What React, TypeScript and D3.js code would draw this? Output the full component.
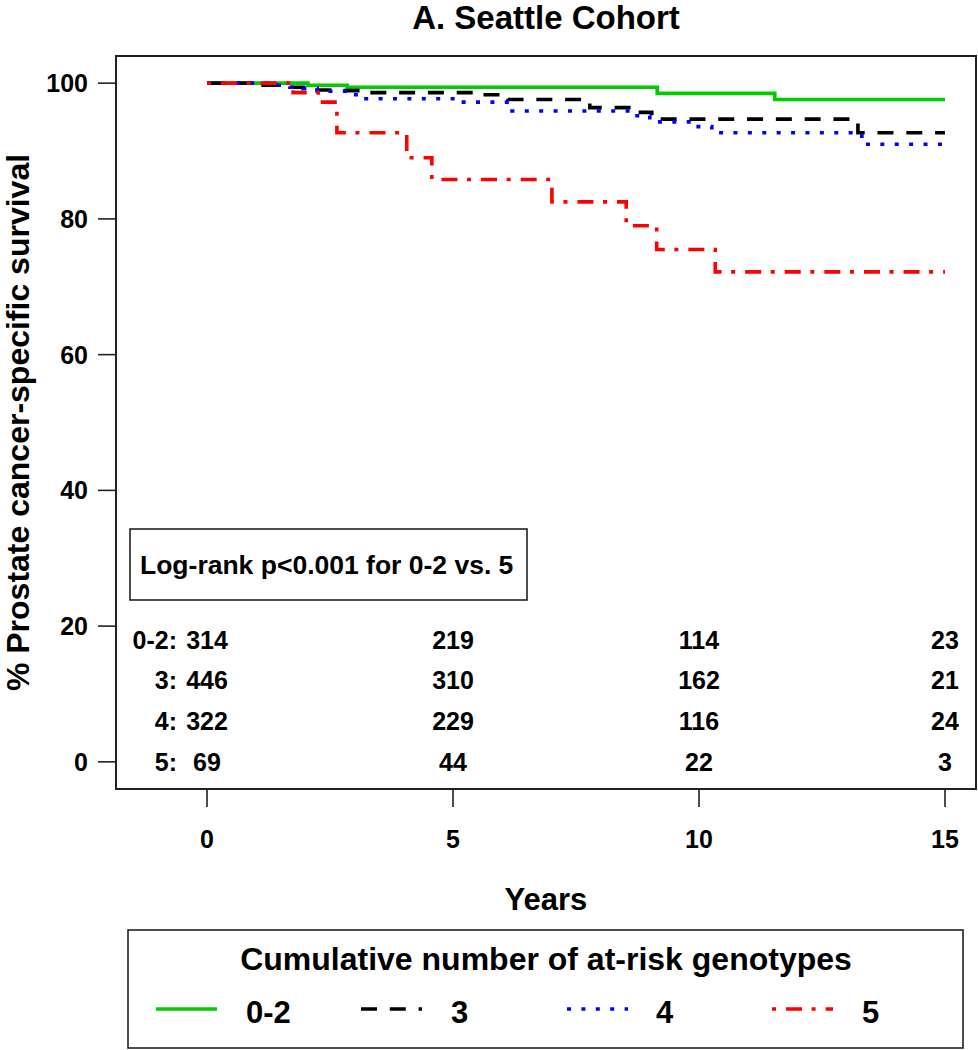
import React from "react";
import * as d3 from "d3";

// ---- data ----
const groups = ["0-2", "3", "4", "5"];
const colors = ["#00cc00", "#000000", "#0000ff", "#ff0000"];
const dashes = ["none", "16,12.8", "4,10.4", "4,10,16,9.6"];

const timesG = [0, 2.05, 2.85, 9.15, 11.54, 15];
const survG = [100, 99.7, 99.4, 98.5, 97.6, 97.6];

const timesB = [0, 1.14, 1.69, 2.24, 2.74, 3.31, 5.55, 6.12, 7.64, 7.78, 8.74, 9.04, 13.23, 15];
const survB = [100, 99.7, 99.4, 99.0, 98.9, 98.6, 98.3, 97.6, 97.2, 96.4, 95.7, 94.7, 92.7, 92.7];

const timesBl = [0, 1.34, 1.69, 1.95, 2.24, 2.97, 3.11, 5.14, 6.2, 8.74, 9.0, 9.86, 10.26, 13.31, 15];
const survBl = [100, 99.7, 99.4, 99.2, 98.8, 98.3, 97.7, 97.2, 95.9, 95.2, 94.3, 93.6, 92.7, 91.0, 91.0];

const timesR = [0, 1.75, 2.26, 2.64, 4.06, 4.57, 7.01, 8.52, 9.14, 10.33, 15];
const survR = [100, 98.6, 97.2, 92.7, 89.0, 85.8, 82.5, 79.0, 75.5, 72.2, 72.2];

const xTicks = [0, 5, 10, 15];
const yTicks = [0, 20, 40, 60, 80, 100];
const riskLabels = ["0-2:", "3:", "4:", "5:"];
const riskRowY = [18, 12, 6, 0];
const riskCounts = [
  [314, 219, 114, 23],
  [446, 310, 162, 21],
  [322, 229, 116, 24],
  [69, 44, 22, 3],
];

const titleText = "A. Seattle Cohort";
const xLabel = "Years";
const yLabel = "% Prostate cancer-specific survival";
const pText = "Log-rank p<0.001 for 0-2 vs. 5";
const legendTitle = "Cumulative number of at-risk genotypes";

const FONT = "'Liberation Sans', Arial, Helvetica, sans-serif";

export default function App() {
  const W = 978, H = 1050;
  const L = 116, R = 976, T = 56, B = 789;
  const x = d3.scaleLinear().domain([-1.85, 15.63]).range([L, R]);
  const y = d3.scaleLinear().domain([-4, 104]).range([B, T]);

  const series = [
    { t: timesG, s: survG },
    { t: timesB, s: survB },
    { t: timesBl, s: survBl },
    { t: timesR, s: survR },
  ];
  const line = d3
    .line<[number, number]>()
    .x((d) => x(d[0]))
    .y((d) => y(d[1]))
    .curve(d3.curveStepAfter);

  const legendXs = [156, 361, 567, 772];
  const legendTextXs = [246, 451, 656, 862];

  return (
    <div style={{ position: "absolute", left: 0, top: 0 }}>
      <svg width={W} height={H} style={{ display: "block" }} fontFamily={FONT} fontWeight="bold">
        <rect x={0} y={0} width={W} height={H} fill="#fff" />
        {/* title */}
        <text x={(L + R) / 2} y={29} textAnchor="middle" fontSize={33}>
          {titleText}
        </text>
        {/* plot box */}
        <rect x={L} y={T} width={R - L} height={B - T} fill="none" stroke="#222" strokeWidth={2} />
        {/* y axis */}
        {yTicks.map((v) => (
          <g key={"y" + v}>
            <line x1={L - 18} x2={L} y1={y(v)} y2={y(v)} stroke="#222" strokeWidth={1.6} />
            <text x={88} y={y(v) + 9} textAnchor="end" fontSize={25}>
              {v}
            </text>
          </g>
        ))}
        {/* x axis */}
        {xTicks.map((v) => (
          <g key={"x" + v}>
            <line x1={x(v)} x2={x(v)} y1={B} y2={B + 18} stroke="#222" strokeWidth={1.6} />
            <text x={x(v)} y={848} textAnchor="middle" fontSize={25}>
              {v}
            </text>
          </g>
        ))}
        <text x={(L + R) / 2} y={910} textAnchor="middle" fontSize={31}>
          {xLabel}
        </text>
        <text
          transform={`translate(29, ${(T + B) / 2}) rotate(-90)`}
          textAnchor="middle"
          fontSize={32}
        >
          {yLabel}
        </text>
        {/* curves */}
        {series.map((sr, i) => (
          <path
            key={"c" + i}
            d={line(sr.t.map((t, j) => [t, sr.s[j]] as [number, number])) || ""}
            fill="none"
            stroke={colors[i]}
            strokeWidth={3.6}
            strokeDasharray={dashes[i]}
          />
        ))}
        {/* log-rank box */}
        <rect x={130} y={529} width={397} height={71} fill="#fff" stroke="#222" strokeWidth={1.6} />
        <text x={140} y={574} fontSize={26.5}>
          {pText}
        </text>
        {/* risk table */}
        {riskCounts.map((row, i) => (
          <g key={"r" + i}>
            <text x={177} y={y(riskRowY[i]) + 9} textAnchor="end" fontSize={25}>
              {riskLabels[i]}
            </text>
            {row.map((n, j) => (
              <text key={j} x={x(xTicks[j])} y={y(riskRowY[i]) + 9} textAnchor="middle" fontSize={25}>
                {n}
              </text>
            ))}
          </g>
        ))}
        {/* legend */}
        <rect x={128} y={930} width={835} height={118} fill="#fff" stroke="#222" strokeWidth={1.6} />
        <text x={(L + R) / 2} y={970} textAnchor="middle" fontSize={32}>
          {legendTitle}
        </text>
        {groups.map((g, i) => (
          <g key={"l" + i}>
            <line
              x1={legendXs[i]}
              x2={legendXs[i] + 61}
              y1={1009}
              y2={1009}
              stroke={colors[i]}
              strokeWidth={3.6}
              strokeDasharray={dashes[i]}
            />
            <text x={legendTextXs[i]} y={1023} fontSize={31}>
              {g}
            </text>
          </g>
        ))}
      </svg>
    </div>
  );
}
